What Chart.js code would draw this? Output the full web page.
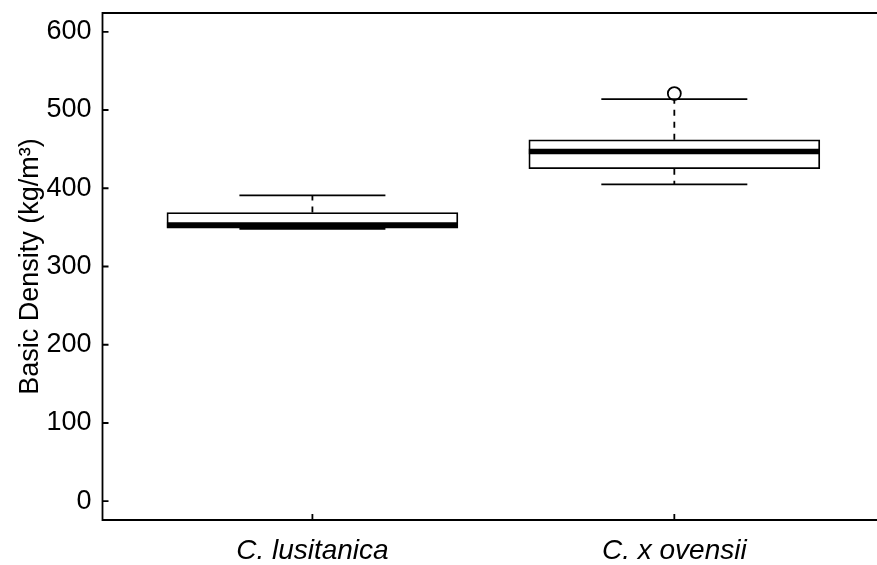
<!DOCTYPE html>
<html>
<head>
<meta charset="utf-8">
<script src="https://cdn.jsdelivr.net/npm/chart.js@4.4.0/dist/chart.umd.min.js"></script>
<style>
    html, body { margin: 0; padding: 0; background: #ffffff; }
    #wrap { width: 877px; height: 565px; }
</style>
</head>
<body>
<div id="wrap"><canvas id="chart"></canvas></div>
<script>
// 박스플롯 데이터
const species = ["C. lusitanica", "C. x ovensii"];
const whiskerLow = [348, 405];
const q1 = [349, 425];
const median = [353, 447];
const q3 = [369, 462];
const whiskerHigh = [391, 514];
const outliers = [[], [521]];
const yTicks = [0, 100, 200, 300, 400, 500, 600];

const FONT = "'Liberation Sans', Arial, sans-serif";

// 중앙값, 수염, 테두리, 안쪽 눈금을 스케일 기준으로 그리는 플러그인
const boxExtras = {
    id: "boxExtras",
    afterDatasetsDraw(chart) {
        const { ctx, chartArea: a, scales: { x, y } } = chart;
        const capHalf = 73;
        const boxHalf = 145.5;
        ctx.save();
        ctx.strokeStyle = "#000";
        species.forEach((name, i) => {
            const cx = x.getPixelForValue(i + 1);
            // 수염 (점선)
            ctx.lineWidth = 1.8;
            ctx.setLineDash([6, 6]);
            ctx.beginPath();
            ctx.moveTo(cx, y.getPixelForValue(q3[i]));
            ctx.lineTo(cx, y.getPixelForValue(whiskerHigh[i]));
            ctx.moveTo(cx, y.getPixelForValue(q1[i]));
            ctx.lineTo(cx, y.getPixelForValue(whiskerLow[i]));
            ctx.stroke();
            ctx.setLineDash([]);
            // 수염 끝
            ctx.beginPath();
            [whiskerHigh[i], whiskerLow[i]].forEach(v => {
                const py = y.getPixelForValue(v);
                ctx.moveTo(cx - capHalf, py);
                ctx.lineTo(cx + capHalf, py);
            });
            ctx.stroke();
            // 중앙값 (굵은 선)
            ctx.lineWidth = 5.5;
            ctx.beginPath();
            const my = y.getPixelForValue(median[i]);
            ctx.moveTo(cx - boxHalf, my);
            ctx.lineTo(cx + boxHalf, my);
            ctx.stroke();
        });
        // 축 테두리
        ctx.lineWidth = 1.8;
        ctx.beginPath();
        ctx.moveTo(a.right + 2, a.top);
        ctx.lineTo(a.left, a.top);
        ctx.lineTo(a.left, a.bottom);
        ctx.lineTo(a.right + 2, a.bottom);
        // 안쪽 눈금
        yTicks.forEach(v => {
            const py = y.getPixelForValue(v);
            ctx.moveTo(a.left, py);
            ctx.lineTo(a.left + 6, py);
        });
        species.forEach((n, i) => {
            const px = x.getPixelForValue(i + 1);
            ctx.moveTo(px, a.bottom);
            ctx.lineTo(px, a.bottom - 6);
        });
        ctx.stroke();
        ctx.restore();
    }
};

const ctx = document.getElementById("chart").getContext("2d");
new Chart(ctx, {
    type: "bar",
    data: {
        datasets: [
            {
                label: "box",
                data: species.map((s, i) => ({ x: i + 1, y: [q1[i], q3[i]] })),
                backgroundColor: "#ffffff",
                borderColor: "#000000",
                borderWidth: 1.8,
                borderSkipped: false,
                barThickness: 291,
                order: 2
            },
            {
                type: "scatter",
                label: "outlier",
                data: outliers.flatMap((arr, i) => arr.map(v => ({ x: i + 1, y: v }))),
                pointRadius: 6.5,
                pointBackgroundColor: "#ffffff",
                pointBorderColor: "#000000",
                pointBorderWidth: 1.8,
                order: 1
            }
        ]
    },
    options: {
        responsive: true,
        maintainAspectRatio: false,
        animation: false,
        layout: { autoPadding: false, padding: { top: 13, right: 0, left: 0, bottom: 0 } },
        plugins: {
            legend: { display: false },
            tooltip: { enabled: false }
        },
        scales: {
            x: {
                type: "linear",
                offset: false,
                min: 0.42,
                max: 2.56,
                grid: { display: false, drawTicks: false },
                border: { display: false },
                afterBuildTicks: scale => { scale.ticks = species.map((s, i) => ({ value: i + 1 })); },
                afterFit: scale => {
                    scale.height = 45;
                    scale.paddingLeft = 0;
                    scale.paddingRight = 0;
                },
                ticks: {
                    autoSkip: false,
                    maxRotation: 0,
                    padding: 14,
                    color: "#000",
                    font: { family: FONT, size: 28, style: "italic" },
                    callback: v => species[v - 1]
                }
            },
            y: {
                min: -24,
                max: 624,
                grid: { display: false, drawTicks: false },
                border: { display: false },
                afterBuildTicks: scale => { scale.ticks = yTicks.map(v => ({ value: v })); },
                afterFit: scale => {
                    scale.width = 102.5;
                    scale.paddingTop = 0;
                    scale.paddingBottom = 0;
                },
                ticks: {
                    padding: 11,
                    color: "#000",
                    font: { family: FONT, size: 27 }
                },
                title: {
                    display: true,
                    text: "Basic Density (kg/m³)",
                    color: "#000",
                    padding: { top: 14, bottom: 0 },
                    font: { family: FONT, size: 27 }
                }
            }
        }
    },
    plugins: [boxExtras]
});
</script>
</body>
</html>
